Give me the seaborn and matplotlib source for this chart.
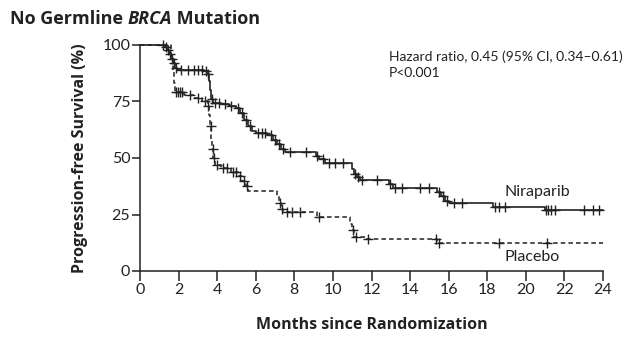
import numpy as np
import pandas as pd
import matplotlib
matplotlib.use("Agg")
import matplotlib.pyplot as plt
import seaborn as sns

# ---- data ----
nira_t = [0, 1.3, 1.4, 1.5, 1.6, 1.7, 1.8, 1.9, 3.3, 3.5, 3.6, 3.65, 3.7, 3.8, 4.2, 4.6, 5.0, 5.2, 5.4,
          5.6, 5.8, 6.0, 6.6, 6.9, 7.1, 7.3, 7.5, 9.1, 9.3, 9.6, 11.0, 11.1, 11.25, 11.4, 12.9, 13.1,
          15.4, 15.6, 15.8, 16.0, 18.3, 21.0, 24.0]
nira_s = [100, 99, 98, 96, 94, 92, 90, 89, 88.5, 87, 84, 80, 76, 74.5, 74, 73, 72, 70, 67,
          64, 62, 61, 60, 58, 56, 54, 52.5, 51, 49.5, 48, 45, 43, 41.5, 40.3, 38.5, 36.7,
          35, 33, 31, 30, 28.3, 27, 27]
nira_cens = [1.2, 1.35, 1.45, 1.55, 1.65, 1.75, 1.85, 2.1, 2.5, 2.8, 3.0, 3.2, 3.4, 3.55, 3.75, 3.9,
             4.1, 4.4, 4.7, 5.1, 5.3, 5.5, 5.7, 6.1, 6.3, 6.5, 6.8, 7.0, 7.2, 7.4, 7.8, 8.6, 9.2,
             9.5, 9.8, 10.1, 10.5, 11.15, 11.3, 11.5, 12.3, 12.95, 13.2, 13.6, 14.5, 15.0, 15.5,
             15.7, 15.9, 16.3, 16.7, 18.4, 18.6, 18.9, 21.05, 21.15, 21.3, 21.5, 23.0, 23.5, 23.8]

plac_t = [0, 1.6, 1.7, 1.75, 1.8, 2.3, 2.8, 3.2, 3.5, 3.6, 3.65, 3.7, 3.75, 3.8, 3.9, 4.2, 4.7,
          5.1, 5.3, 5.5, 5.6, 7.1, 7.2, 7.3, 7.4, 9.2, 10.9, 11.0, 11.1, 11.7, 15.4, 24.0]
plac_s = [100, 95, 88, 83, 79, 78, 76.5, 75, 73, 69, 64, 58, 54, 50, 47, 45.5, 44,
          42, 40, 37.5, 35.5, 33, 30, 27.5, 26, 24, 21, 18, 15, 14, 12.5, 12.5]
plac_cens = [1.85, 1.95, 2.05, 2.2, 2.6, 3.0, 3.35, 3.55, 3.68, 3.78, 3.85, 4.0, 4.3, 4.5, 4.8,
             5.0, 5.2, 5.4, 5.55, 7.25, 7.35, 7.6, 7.9, 8.3, 9.3, 11.05, 11.2, 11.8, 15.35, 15.5,
             18.6, 21.1]

x_ticks = list(range(0, 25, 2))
y_ticks = [0, 25, 50, 75, 100]


def surv_at(times, vals, t):
    idx = np.searchsorted(np.array(times), t, side="right") - 1
    return vals[max(idx, 0)]


sns.set_theme(style="white")
plt.rcParams["font.family"] = ["Open Sans", "DejaVu Sans"]

fig = plt.figure(figsize=(6.29, 3.39), dpi=100)
ax = fig.add_axes([140 / 629, 1 - 271 / 339, 463 / 629, 226 / 339])

curves = pd.DataFrame({"t": nira_t + plac_t, "s": nira_s + plac_s,
                       "arm": ["Niraparib"] * len(nira_t) + ["Placebo"] * len(plac_t)})
cens = pd.DataFrame({
    "t": nira_cens + plac_cens,
    "s": [surv_at(nira_t, nira_s, c) for c in nira_cens] + [surv_at(plac_t, plac_s, c) for c in plac_cens],
    "arm": ["Niraparib"] * len(nira_cens) + ["Placebo"] * len(plac_cens)})

sns.lineplot(data=curves[curves.arm == "Niraparib"], x="t", y="s", ax=ax, color="#222222",
             lw=1.2, drawstyle="steps-post", estimator=None, sort=False, clip_on=False)
sns.lineplot(data=curves[curves.arm == "Placebo"], x="t", y="s", ax=ax, color="#222222",
             lw=1.1, drawstyle="steps-post", estimator=None, sort=False, clip_on=False,
             dashes=False, linestyle=(0, (3, 2)))
sns.scatterplot(data=cens, x="t", y="s", ax=ax, marker="+", color="#222222", s=45,
                linewidth=1.0, legend=False, clip_on=False, zorder=3)

ax.set_xlim(0, 24)
ax.set_ylim(0, 100)
ax.set_xticks(x_ticks)
ax.set_yticks(y_ticks)
ax.set_xticklabels([str(v) for v in x_ticks], family=["Lato", "DejaVu Sans"], fontsize=11.5)
ax.set_yticklabels([str(v) for v in y_ticks], family=["Lato", "DejaVu Sans"], fontsize=11.5)
for s in ["top", "right"]:
    ax.spines[s].set_visible(False)
for s in ["left", "bottom"]:
    ax.spines[s].set_color("#222222")
    ax.spines[s].set_linewidth(1.1)
ax.tick_params(axis="x", direction="out", length=7, width=1.1, color="#222222", pad=2,
               bottom=True, labelcolor="#222222")
ax.tick_params(axis="y", direction="out", length=6, width=1.1, color="#222222", pad=1,
               left=True, labelcolor="#222222")
ax.set_xlabel("Months since Randomization", fontsize=11.5, fontweight="bold", color="#222222",
              labelpad=14)
ax.set_ylabel("Progression-free Survival (%)", fontsize=11.5, fontweight="bold", color="#222222",
              labelpad=10)

lato = ["Lato", "DejaVu Sans"]
ax.text(12.9, 97.5, "Hazard ratio, 0.45 (95% CI, 0.34\u20130.61)\nP<0.001", fontsize=10,
        family=lato, color="#222222", va="top", ha="left", linespacing=1.35)
ax.text(18.9, 35, "Niraparib", fontsize=11.5, family=lato, color="#222222", va="center", ha="left")
ax.text(18.9, 6, "Placebo", fontsize=11.5, family=lato, color="#222222", va="center", ha="left")

title_y = 1 - 24 / 339
t1 = fig.text(10 / 629, title_y, "No Germline ", fontsize=13, fontweight="bold",
              color="#222222", va="baseline")
fig.canvas.draw()
r = fig.canvas.get_renderer()
bb1 = t1.get_window_extent(r)
t2 = fig.text(bb1.x1 / fig.bbox.width, title_y, "BRCA", fontsize=13, fontweight="bold",
              style="italic", color="#222222", va="baseline")
fig.canvas.draw()
bb2 = t2.get_window_extent(r)
fig.text(bb2.x1 / fig.bbox.width, title_y, " Mutation", fontsize=13, fontweight="bold",
         color="#222222", va="baseline")

fig.savefig("out.png", dpi=100)
